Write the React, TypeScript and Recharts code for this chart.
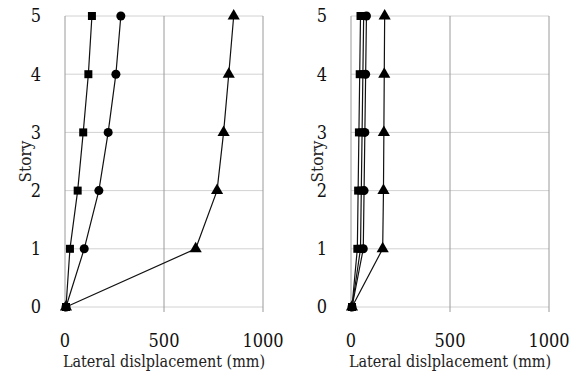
import React from 'react';
import { ScatterChart, Scatter, XAxis, YAxis, CartesianGrid, Label } from 'recharts';

const stories = [0, 1, 2, 3, 4, 5];
const xTicks = [0, 500, 1000];

const leftSquare = [5, 25, 64, 92, 118, 136];
const leftCircle = [5, 97, 171, 218, 257, 282];
const leftTriangle = [5, 660, 768, 801, 827, 852];

const rightSquareA = [5, 32, 36, 40, 44, 48];
const rightSquareB = [5, 48, 52, 56, 60, 64];
const rightCircle = [5, 62, 66, 70, 74, 78];
const rightTriangle = [5, 160, 164, 166, 168, 170];

const toPoints = (vals: number[]) => stories.map((s, i) => ({ x: vals[i], y: s }));

const FONT = "'DejaVu Serif Condensed', 'DejaVu Serif', serif";

type SeriesDef = { vals: number[]; shape: 'square' | 'circle' | 'triangle' };

const StoryLabel = (props: any) => {
  const vb = props.viewBox || {};
  const cx = (vb.x ?? 0) + 25 - (props.shift ?? 0);
  const cy = (vb.y ?? 0) + (vb.height ?? 0) / 2;
  return (
    <text
      x={cx}
      y={cy}
      transform={`rotate(-90, ${cx}, ${cy})`}
      textAnchor="middle"
      dominantBaseline="central"
      fontFamily={FONT}
      fontSize={17}
      fill="#222"
    >
      Story
    </text>
  );
};

function Panel({ series, yWidth, right, shift }: { series: SeriesDef[]; yWidth: number; right: number; shift: number }) {
  return (
    <ScatterChart
      width={yWidth + 198 + right}
      height={381}
      margin={{ top: 16, right, bottom: 9, left: 0 }}
    >
      <CartesianGrid horizontal={true} vertical={false} stroke="#d2d2d2" strokeWidth={1} />
      <CartesianGrid horizontal={false} vertical={true} stroke="#9a9a9a" strokeWidth={1} />
      <XAxis
        type="number"
        dataKey="x"
        domain={[0, 1000]}
        ticks={xTicks}
        axisLine={false}
        tickLine={{ stroke: '#9a9a9a' }}
        tickSize={5}
        tickMargin={22}
        height={65}
        fontFamily={FONT}
        fontSize={18}
        tick={{ fill: '#111' }}
      >
        <Label
          value="Lateral dislplacement (mm)"
          position="insideBottom"
          offset={5}
          fontFamily={FONT}
          fontSize={16}
          fill="#222"
        />
      </XAxis>
      <YAxis
        type="number"
        dataKey="y"
        domain={[0, 5]}
        ticks={stories}
        axisLine={false}
        tickLine={false}
        tickMargin={18}
        width={yWidth}
        fontFamily={FONT}
        fontSize={18}
        tick={{ fill: '#111' }}
      >
        <Label content={<StoryLabel shift={shift} />} />
      </YAxis>
      {series.map((s, i) => (
        <Scatter
          key={i}
          data={toPoints(s.vals)}
          shape={s.shape}
          fill="#000"
          line={{ stroke: '#111', strokeWidth: 1.2 }}
          lineType="joint"
          isAnimationActive={false}
        />
      ))}
    </ScatterChart>
  );
}

export default function App() {
  return (
    <div style={{ position: 'absolute', left: 0, top: 0, width: 575, height: 381, display: 'flex', background: '#fff' }}>
      <Panel
        yWidth={65}
        right={27}
        shift={0}
        series={[
          { vals: leftTriangle, shape: 'triangle' },
          { vals: leftCircle, shape: 'circle' },
          { vals: leftSquare, shape: 'square' },
        ]}
      />
      <Panel
        yWidth={61}
        right={26}
        shift={-2}
        series={[
          { vals: rightTriangle, shape: 'triangle' },
          { vals: rightCircle, shape: 'circle' },
          { vals: rightSquareB, shape: 'square' },
          { vals: rightSquareA, shape: 'square' },
        ]}
      />
    </div>
  );
}
